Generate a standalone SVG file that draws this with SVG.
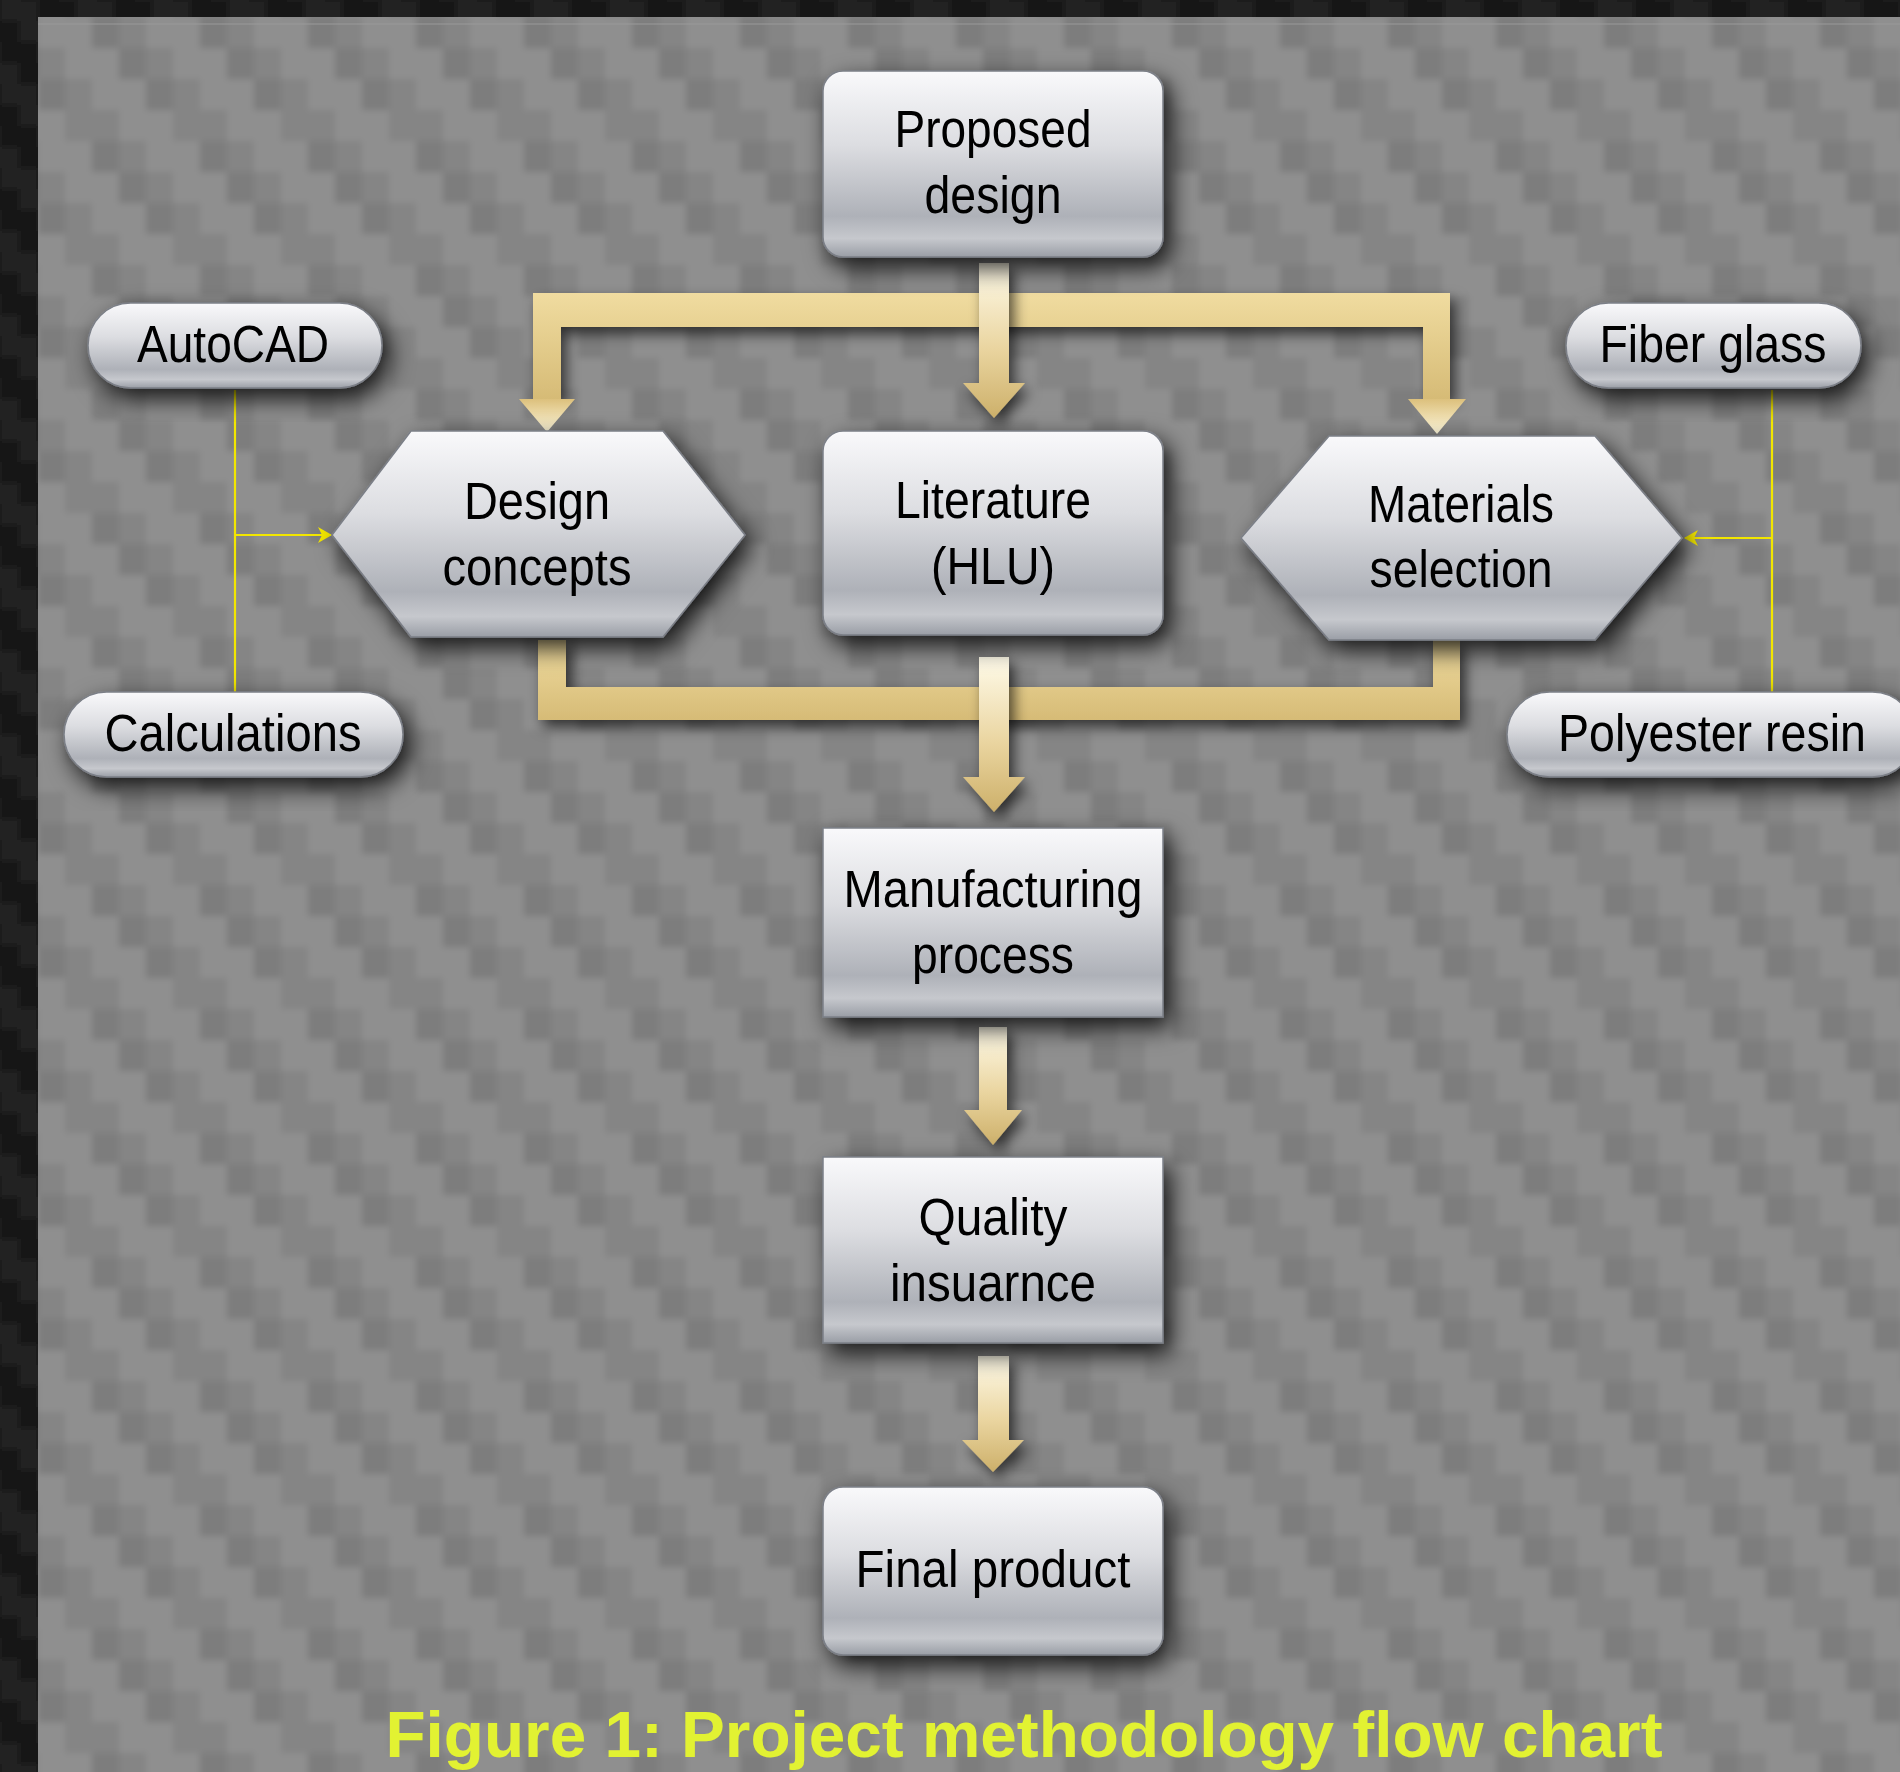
<svg xmlns="http://www.w3.org/2000/svg" width="1900" height="1772" viewBox="0 0 1900 1772">
<defs>
<pattern id="twill" x="38" y="17" width="108" height="124" patternUnits="userSpaceOnUse">
<rect width="108" height="124" fill="#858585"/>
<rect x="0" y="0" width="54" height="31" fill="#8f8f8f"/>
<rect x="27" y="31" width="54" height="31" fill="#8f8f8f"/>
<rect x="54" y="62" width="54" height="31" fill="#8f8f8f"/>
<rect x="81" y="93" width="27" height="31" fill="#8f8f8f"/>
<rect x="0" y="93" width="27" height="31" fill="#8f8f8f"/>
<rect x="54" y="0" width="27" height="31" fill="#7d7d7d"/>
<rect x="0" y="62" width="27" height="31" fill="#7d7d7d"/>
<rect x="81" y="31" width="27" height="31" fill="#7d7d7d"/>
</pattern>
<pattern id="dark" x="0" y="0" width="76" height="84" patternUnits="userSpaceOnUse">
<rect width="76" height="84" fill="#161616"/>
<rect x="0" y="0" width="38" height="21" fill="#232323"/>
<rect x="19" y="21" width="38" height="21" fill="#232323"/>
<rect x="38" y="42" width="38" height="21" fill="#232323"/>
<rect x="57" y="63" width="19" height="21" fill="#232323"/>
<rect x="0" y="63" width="19" height="21" fill="#232323"/>
</pattern>
<clipPath id="panelClip"><rect x="38" y="17" width="1862" height="1755"/></clipPath>
<linearGradient id="metal" x1="0" y1="0" x2="0" y2="1">
<stop offset="0" stop-color="#f9f9fb"/>
<stop offset="0.4" stop-color="#dcdde1"/>
<stop offset="0.78" stop-color="#aeb1b8"/>
<stop offset="0.9" stop-color="#c6c8cd"/>
<stop offset="1" stop-color="#9a9ea6"/>
</linearGradient>
<linearGradient id="goldV" x1="0" y1="0" x2="0" y2="1">
<stop offset="0" stop-color="#fffbea"/>
<stop offset="0.55" stop-color="#ead5a0"/>
<stop offset="1" stop-color="#cdb06a"/>
</linearGradient>
<linearGradient id="goldBar" x1="0" y1="0" x2="0" y2="1">
<stop offset="0" stop-color="#f0dca0"/>
<stop offset="1" stop-color="#d6bb76"/>
</linearGradient>
<linearGradient id="goldHead" x1="0" y1="0" x2="0" y2="1">
<stop offset="0" stop-color="#dcc07c"/>
<stop offset="1" stop-color="#fff8dc"/>
</linearGradient>
<filter id="soft">
<feGaussianBlur stdDeviation="3"/>
</filter>
<filter id="shadow" x="-30%" y="-30%" width="160%" height="170%">
<feDropShadow dx="7" dy="10" stdDeviation="12" flood-color="#000" flood-opacity="0.85"/>
</filter>
<filter id="shadowS" x="-30%" y="-30%" width="160%" height="170%">
<feDropShadow dx="5" dy="7" stdDeviation="7" flood-color="#000" flood-opacity="0.65"/>
</filter>
<marker id="yarrow" markerWidth="14" markerHeight="16" refX="13" refY="8" orient="auto" markerUnits="userSpaceOnUse">
<path d="M0,0 L14,8 L0,16 L4,8 Z" fill="#f2e600"/>
</marker>
<style>
.node{fill:url(#metal);stroke:#7b7f87;stroke-width:1.5;filter:url(#shadow);}
.t{font-family:"Liberation Sans",Arial,sans-serif;font-size:51px;fill:#000;text-anchor:middle;}
.gold{fill:url(#goldBar);filter:url(#shadowS);}
.goldv{fill:url(#goldV);filter:url(#shadowS);}
.head{fill:url(#goldHead);}
.yl{stroke:#f2e600;stroke-width:2.2;fill:none;}
</style>
</defs>
<rect x="-40" y="-40" width="1980" height="1852" fill="url(#dark)" filter="url(#soft)"/>
<g clip-path="url(#panelClip)">
<rect x="10" y="-10" width="1930" height="1822" fill="url(#twill)" filter="url(#soft)"/>
</g>
<line x1="38" y1="24" x2="1900" y2="24" stroke="#9a9a9a" stroke-width="2" opacity="0.5"/>

<g id="connectors">
<path class="gold" d="M533,293 L1450,293 L1450,399 L1423,399 L1423,327 L561,327 L561,399 L533,399 Z"/>
<polygon class="head" points="519,399 575,399 547,432"/>
<polygon class="head" points="1408,399 1466,399 1437,434"/>
<path class="goldv" d="M979,263 L1009,263 L1009,383 L1025,383 L994,418 L963,383 L979,383 Z"/>
<path class="gold" d="M538,640 L566,640 L566,687 L1433,687 L1433,640 L1460,640 L1460,720 L538,720 Z"/>
<path class="goldv" d="M979,657 L1009,657 L1009,777 L1025,777 L994,812 L963,777 L979,777 Z"/>
<path class="goldv" d="M979,1027 L1007,1027 L1007,1110 L1022,1110 L993,1145 L964,1110 L979,1110 Z"/>
<path class="goldv" d="M978,1356 L1009,1356 L1009,1440 L1024,1440 L993,1472 L962,1440 L978,1440 Z"/>
<polyline class="yl" points="235,390 235,692"/>
<line class="yl" x1="235" y1="535" x2="331" y2="535" marker-end="url(#yarrow)"/>
<polyline class="yl" points="1772,390 1772,693"/>
<line class="yl" x1="1772" y1="538" x2="1685" y2="538" marker-end="url(#yarrow)"/>
</g>

<g id="proposed">
<rect class="node" x="823" y="71" width="340" height="186" rx="20"/>
<text class="t" x="993" y="147" textLength="197" lengthAdjust="spacingAndGlyphs">Proposed</text>
<text class="t" x="993" y="213" textLength="137" lengthAdjust="spacingAndGlyphs">design</text>
</g>
<g id="literature">
<rect class="node" x="823" y="431" width="340" height="204" rx="20"/>
<text class="t" x="993" y="518" textLength="196" lengthAdjust="spacingAndGlyphs">Literature</text>
<text class="t" x="993" y="584" textLength="124" lengthAdjust="spacingAndGlyphs">(HLU)</text>
</g>
<g id="design-concepts">
<polygon class="node" points="332,535 411,431 663,431 745,535 663,637 411,637"/>
<text class="t" x="537" y="519" textLength="146" lengthAdjust="spacingAndGlyphs">Design</text>
<text class="t" x="537" y="585" textLength="189" lengthAdjust="spacingAndGlyphs">concepts</text>
</g>
<g id="materials">
<polygon class="node" points="1241,538 1329,436 1595,436 1682,538 1595,640 1329,640"/>
<text class="t" x="1461" y="522" textLength="186" lengthAdjust="spacingAndGlyphs">Materials</text>
<text class="t" x="1461" y="587" textLength="183" lengthAdjust="spacingAndGlyphs">selection</text>
</g>
<g id="autocad">
<rect class="node" x="88" y="303" width="294" height="85" rx="42.5"/>
<text class="t" x="233" y="362" textLength="192" lengthAdjust="spacingAndGlyphs">AutoCAD</text>
</g>
<g id="calculations">
<rect class="node" x="64" y="692" width="339" height="85" rx="42.5"/>
<text class="t" x="233" y="751" textLength="257" lengthAdjust="spacingAndGlyphs">Calculations</text>
</g>
<g id="fiber-glass">
<rect class="node" x="1566" y="303" width="295" height="85" rx="42.5"/>
<text class="t" x="1713" y="362" textLength="227" lengthAdjust="spacingAndGlyphs">Fiber glass</text>
</g>
<g id="polyester-resin">
<rect class="node" x="1507" y="692" width="408" height="85" rx="42.5"/>
<text class="t" x="1712" y="751" textLength="308" lengthAdjust="spacingAndGlyphs">Polyester resin</text>
</g>
<g id="manufacturing">
<rect class="node" x="823" y="828" width="340" height="189"/>
<text class="t" x="993" y="907" textLength="299" lengthAdjust="spacingAndGlyphs">Manufacturing</text>
<text class="t" x="993" y="973" textLength="162" lengthAdjust="spacingAndGlyphs">process</text>
</g>
<g id="quality">
<rect class="node" x="823" y="1157" width="340" height="186"/>
<text class="t" x="993" y="1235" textLength="149" lengthAdjust="spacingAndGlyphs">Quality</text>
<text class="t" x="993" y="1301" textLength="206" lengthAdjust="spacingAndGlyphs">insuarnce</text>
</g>
<g id="final-product">
<rect class="node" x="823" y="1487" width="340" height="168" rx="20"/>
<text class="t" x="993" y="1587" textLength="275" lengthAdjust="spacingAndGlyphs">Final product</text>
</g>
<text x="1024" y="1757" font-family="Liberation Sans,Arial,sans-serif" font-weight="bold" font-size="65" fill="#e2f232" text-anchor="middle" textLength="1277" lengthAdjust="spacingAndGlyphs">Figure 1: Project methodology flow chart</text>
</svg>
